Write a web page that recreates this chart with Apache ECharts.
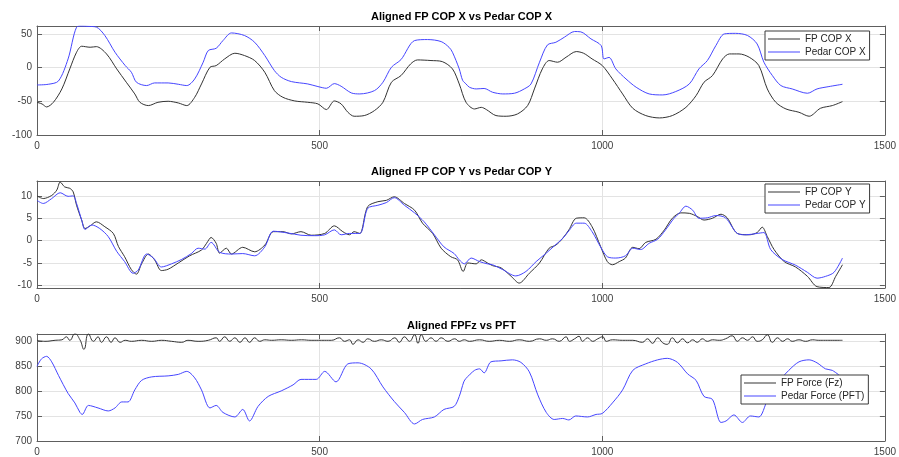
<!DOCTYPE html>
<html>
<head>
<meta charset="utf-8">
<script src="https://cdn.jsdelivr.net/npm/echarts@6/dist/echarts.min.js"></script>
<style>
  html, body { margin: 0; padding: 0; background: #fff; }
  #chart { width: 899px; height: 457px; }
</style>
</head>
<body>
<div id="chart"></div>
<script>
// ---- Sample index ticks (shared x axis for all three panels) ----
const xTicks = [0, 500, 1000, 1500];

// ---- Panel 1: COP X ----
const fpCopX_t = [0,9,17,29,44,58,70,79,94,105,123,141,158,173,182,197,214,232,250,265,279,291,306,317,332,350,367,385,403,420,435,456,479,497,512,526,538,550,561,579,597,612,627,644,661,673,697,717,735,747,759,774,786,795,812,830,850,868,880,894,906,921,936,954,967,982,1000,1018,1036,1054,1077,1101,1124,1148,1166,1180,1195,1213,1225,1242,1260,1277,1292,1307,1325,1348,1366,1386,1407,1425];
const fpCopX_v = [-51.5,-54,-58.4,-51.5,-31.7,-2,22.7,31.6,30.1,31,20.2,-2,-21.8,-39.1,-51.5,-56.4,-51.5,-50,-52.5,-56.4,-44.1,-24.3,0.4,2.9,12.8,21.2,17.8,10.4,-7,-34.2,-44.1,-49.5,-51.5,-53.9,-62.3,-49.5,-53.9,-66.3,-72.2,-71.2,-63.8,-51.5,-21.8,-11.9,5.4,11.3,10.4,8.8,-2,-24.3,-51.5,-61.4,-59,-62.3,-71.2,-72.2,-68.8,-56.4,-31.7,-2,10.4,7.9,15.3,23.7,21.2,12.8,3,-16.9,-39.1,-60.4,-71.2,-74.7,-71.2,-59,-41.6,-21.8,-11.9,12.8,20.2,20.2,15.3,3,-31.7,-51.5,-61.4,-66.3,-72.2,-60.4,-56.4,-50.5];
const pedarCopX_t = [0,20,38,55,70,79,92,105,120,138,156,167,176,194,208,232,250,265,279,294,303,317,329,344,367,385,403,420,432,450,479,497,512,526,538,556,571,597,612,627,644,668,691,715,729,735,747,753,759,765,777,791,806,824,845,862,874,889,903,918,933,951,962,980,998,1003,1012,1024,1042,1060,1083,1107,1130,1154,1171,1186,1201,1216,1236,1257,1274,1286,1301,1316,1336,1363,1380,1401,1425];
const pedarCopX_v = [-25.8,-24.8,-19.9,12.8,59.8,61.5,61,60,47.5,22.7,3,-7,-21.8,-26.7,-22.8,-22.8,-24.8,-26.7,-16.9,7.9,25.2,28.6,40,51.3,47.5,37.5,17.8,-4.5,-14.4,-20.8,-24.3,-28.2,-30.7,-23.8,-27.7,-37.6,-39.1,-34.2,-21.8,0.4,11.8,40,41.5,38.5,30,22.7,-2,-19,-24.3,-29.2,-31.7,-31,-36.6,-39.1,-38,-31.7,-24.3,7.9,33.5,37.5,45,53.4,52.9,42.5,32.6,12.8,15,-2,-16.9,-29.2,-39.1,-40.6,-35.6,-24.3,-2,10.4,32.6,49.9,50.7,47.5,35,7.9,-11.9,-26.7,-31.7,-38.1,-31.7,-28.2,-24.8];

// ---- Panel 2: COP Y ----
const fpCopY_t = [0,11,26,35,41,49,58,64,70,79,85,94,105,120,135,144,155,167,176,185,197,208,220,232,250,270,291,300,308,317,323,335,344,364,385,403,418,435,450,467,485,509,526,541,553,561,571,585,603,618,632,650,668,682,700,715,732,744,754,762,777,786,797,806,821,839,853,871,889,906,918,930,941,954,968,982,997,1009,1018,1030,1041,1054,1065,1077,1095,1110,1124,1139,1154,1168,1180,1195,1210,1221,1239,1260,1274,1283,1292,1304,1322,1342,1363,1380,1401,1413,1425];
const fpCopY_v = [10,9.4,10.1,11.3,13.1,12,11.7,10.9,7.9,4.6,2.7,3.3,4.2,3.1,1.6,-1.3,-3.6,-6.5,-7.5,-5.2,-3,-4.3,-6.7,-6.4,-5,-3.4,-2.1,-0.6,0.7,-0.6,-2.8,-1.7,-3,-1.5,-2.5,-1,2,2,1.5,2,1.2,1.6,3.3,2,1.3,2,1.6,7.6,8.7,9,9.8,8.3,6.8,3.9,1.6,-1.7,-3.6,-4.3,-6.9,-5,-5.2,-4.3,-5,-5.6,-6.1,-8,-9.5,-7.3,-5,-1.7,-1,0.5,2.4,5,5.1,3.1,-1.3,-4.7,-5.4,-4.7,-3.9,-1.5,-1.8,-0.4,0.3,2.4,5,6.2,6.1,5.4,4.6,5,5.9,5.1,1.6,1.3,1.8,3,0.9,-2,-4.7,-5.9,-8,-10.3,-10.5,-8,-5.4];
const pedarCopY_t = [0,11,26,41,55,64,70,79,85,97,111,126,141,155,170,179,194,206,220,238,256,273,285,297,308,323,344,364,385,403,418,444,467,491,509,526,538,553,571,585,603,618,632,650,668,685,703,720,738,747,756,768,783,797,806,824,847,865,883,900,915,930,941,954,968,982,997,1009,1024,1041,1054,1068,1083,1098,1112,1127,1136,1148,1160,1171,1186,1201,1218,1239,1254,1274,1286,1298,1318,1342,1363,1380,1395,1410,1425];
const pedarCopY_v = [9,8.3,9.4,10.7,9.9,10,8.3,4.6,2.5,3.5,2.7,0.9,-2.4,-4.7,-7.3,-6.6,-3,-3.9,-5.9,-5.2,-4.2,-2.9,-1.7,-1.9,-0.4,-2.6,-3,-2.9,-3.4,-1.4,2.1,1.7,1.2,1.1,1.3,2.4,1.3,1.6,1.6,7.2,7.9,8.5,9.6,7.9,6.2,4.2,1.3,-1.4,-2.9,-4.3,-5.2,-3.9,-4.7,-5.2,-5.4,-6.5,-7.9,-6.9,-4.7,-2.9,-1.2,0.5,2.2,3.9,3.9,2,-1.4,-3.6,-3.9,-3.4,-1.7,-2,-0.6,0.3,2.4,5,6.1,7.7,6.8,5,5.1,5.6,5.1,1.6,1.3,1.6,1.8,-2,-4.2,-5.5,-7.1,-8.4,-8,-7.1,-3.9];

// ---- Panel 3: vertical force ----
const fpForce_t = [0,14,32,44,52,58,67,76,83,91,100,108,114,123,131,138,147,156,167,185,203,220,238,256,267,285,303,317,323,332,341,350,359,368,376,385,394,403,415,432,450,468,485,503,521,535,544,553,559,568,577,585,597,609,621,633,641,650,659,668,674,680,688,697,706,715,727,739,747,756,765,783,800,818,836,853,871,889,901,912,924,936,942,951,959,965,974,983,992,1001,1007,1018,1036,1054,1071,1080,1089,1098,1107,1115,1124,1133,1142,1151,1160,1168,1177,1186,1195,1207,1218,1230,1239,1248,1257,1266,1274,1283,1292,1301,1310,1319,1328,1336,1348,1360,1372,1383,1395,1407,1425];
const fpForce_v = [901,899,901,902,908,901,914,902,883,914,899,908,897,908,897,906,897,901,899,901,899,901,899,897,901,899,901,906,899,908,899,906,897,906,897,906,899,902,901,902,901,902,901,901,901,906,899,902,893,902,897,904,899,902,899,906,897,908,899,912,895,912,899,906,899,906,899,904,899,902,899,902,899,901,899,902,899,904,901,904,899,908,899,904,909,899,906,899,904,908,899,902,901,901,897,904,895,906,896,893,906,896,904,896,902,897,904,899,902,901,904,910,899,906,901,908,899,902,912,897,906,899,904,899,902,899,902,901,901,901,901];
const pedarForce_t = [0,8,17,26,38,55,67,76,80,91,108,126,138,150,161,173,185,203,232,250,265,279,291,306,317,329,350,364,376,391,409,432,453,467,494,509,529,550,568,591,612,632,650,668,682,703,720,738,747,755,759,774,783,791,803,821,841,856,871,886,901,915,930,941,953,974,989,1000,1018,1036,1054,1077,1098,1115,1133,1151,1166,1180,1195,1210,1219,1233,1248,1262,1277,1292,1312,1330,1348,1366,1380,1395,1407,1425];
const pedarForce_v = [849,864,869,858,831,795,776,757,753,771,766,760,766,778,778,802,821,828,830,833,839,826,802,766,771,757,748,763,740,769,789,800,812,823,823,839,818,854,856,844,808,779,757,734,743,748,763,769,789,818,825,841,844,836,858,860,862,857,838,792,757,743,745,742,750,748,753,755,776,802,841,854,862,865,857,834,821,789,783,737,740,752,737,750,748,781,818,841,858,862,856,844,841,826];

// ---- Styling ----
const FONT = '"Liberation Sans", Arial, Helvetica, sans-serif';
const AXIS_COLOR = '#5e5e5e';
const LABEL_COLOR = '#404040';
const GRID_COLOR = '#e3e3e3';
const BLACK = '#333333';
const BLUE = '#4646ff';

const pair = (t, v) => t.map((x, i) => [x, v[i]]);

const grids = [
  { left: 37, right: 13, top: 26, height: 109 },
  { left: 37, right: 13, top: 181, height: 107 },
  { left: 37, right: 13, top: 334, height: 110 }
];

const yRanges = [
  { min: -100, max: 61.6, interval: 50 },
  { min: -10.6, max: 13.33, minInterval: 5, maxInterval: 5, splitNumber: 5 },
  { min: 700, max: 913.6, interval: 50 }
];

function xAxisFor(i, pos) {
  const isBottom = pos === 'bottom';
  return {
    type: 'value', gridIndex: i, position: pos,
    min: xTicks[0], max: xTicks[xTicks.length - 1], interval: xTicks[1] - xTicks[0],
    axisLine: { show: true, onZero: false, lineStyle: { color: AXIS_COLOR, width: 1 } },
    axisTick: { show: true, inside: true, length: 5, lineStyle: { color: AXIS_COLOR } },
    axisLabel: { show: isBottom, color: LABEL_COLOR, fontSize: 10, fontFamily: FONT, margin: 6,
                 formatter: v => String(v) },
    splitLine: { show: isBottom, lineStyle: { color: GRID_COLOR, width: 1 } }
  };
}

function yAxisFor(i, pos) {
  const isLeft = pos === 'left';
  const r = yRanges[i];
  const ax = {
    type: 'value', gridIndex: i, position: pos,
    min: r.min, max: r.max,
    axisLine: { show: true, onZero: false, lineStyle: { color: AXIS_COLOR, width: 1 } },
    axisTick: { show: true, inside: true, length: 5, lineStyle: { color: AXIS_COLOR } },
    axisLabel: {
      show: isLeft, color: LABEL_COLOR, fontSize: 10, fontFamily: FONT, margin: 5,
      showMinLabel: i !== 1, showMaxLabel: false, formatter: v => String(v)
    },
    splitLine: { show: isLeft, lineStyle: { color: GRID_COLOR, width: 1 } }
  };
  if (r.interval) ax.interval = r.interval;
  if (r.minInterval) { ax.minInterval = r.minInterval; ax.maxInterval = r.maxInterval; ax.splitNumber = r.splitNumber; }
  return ax;
}

function lineSeries(name, i, data, color, smooth) {
  return {
    name, type: 'line', xAxisIndex: i, yAxisIndex: i,
    data, symbol: 'none', smooth: smooth, animation: false,
    lineStyle: { color, width: 1 }, itemStyle: { color },
    emphasis: { disabled: true }
  };
}

const titles = ['Aligned FP COP X vs Pedar COP X', 'Aligned FP COP Y vs Pedar COP Y', 'Aligned FPFz vs PFT'];
const titleTops = [11, 166, 320];

function legendFor(names, left, top) {
  return {
    data: names.map(n => ({ name: n, icon: 'rect' })),
    orient: 'vertical', left, top,
    itemWidth: 32, itemHeight: 1, itemGap: 1,
    padding: [2, 4, 2, 3],
    backgroundColor: '#fff', borderColor: '#3a3a3a', borderWidth: 1, borderRadius: 0,
    textStyle: { fontSize: 10, color: '#262626', fontFamily: FONT, lineHeight: 12 },
    selectedMode: false
  };
}

const option = {
  backgroundColor: '#fff',
  animation: false,
  textStyle: { fontFamily: FONT },
  title: titles.map((t, i) => ({
    text: t, left: 461.5, top: titleTops[i], textAlign: 'center', padding: 0,
    textStyle: { fontSize: 11, fontWeight: 'bold', color: '#000', fontFamily: FONT }
  })),
  grid: grids,
  xAxis: [xAxisFor(0, 'bottom'), xAxisFor(1, 'bottom'), xAxisFor(2, 'bottom'),
          xAxisFor(0, 'top'), xAxisFor(1, 'top'), xAxisFor(2, 'top')],
  yAxis: [yAxisFor(0, 'left'), yAxisFor(1, 'left'), yAxisFor(2, 'left'),
          yAxisFor(0, 'right'), yAxisFor(1, 'right'), yAxisFor(2, 'right')],
  legend: [
    legendFor(['FP COP X', 'Pedar COP X'], 765, 31),
    legendFor(['FP COP Y', 'Pedar COP Y'], 765, 184),
    legendFor(['FP Force (Fz)', 'Pedar Force (PFT)'], 741, 375)
  ],
  series: [
    lineSeries('FP COP X', 0, pair(fpCopX_t, fpCopX_v), BLACK, 0.3),
    lineSeries('Pedar COP X', 0, pair(pedarCopX_t, pedarCopX_v), BLUE, 0.3),
    lineSeries('FP COP Y', 1, pair(fpCopY_t, fpCopY_v), BLACK, 0.3),
    lineSeries('Pedar COP Y', 1, pair(pedarCopY_t, pedarCopY_v), BLUE, 0.3),
    lineSeries('FP Force (Fz)', 2, pair(fpForce_t, fpForce_v), BLACK, 0.5),
    lineSeries('Pedar Force (PFT)', 2, pair(pedarForce_t, pedarForce_v), BLUE, 0.3)
  ]
};

const chart = echarts.init(document.getElementById('chart'), null, { renderer: 'canvas' });
chart.setOption(option);
</script>
</body>
</html>
